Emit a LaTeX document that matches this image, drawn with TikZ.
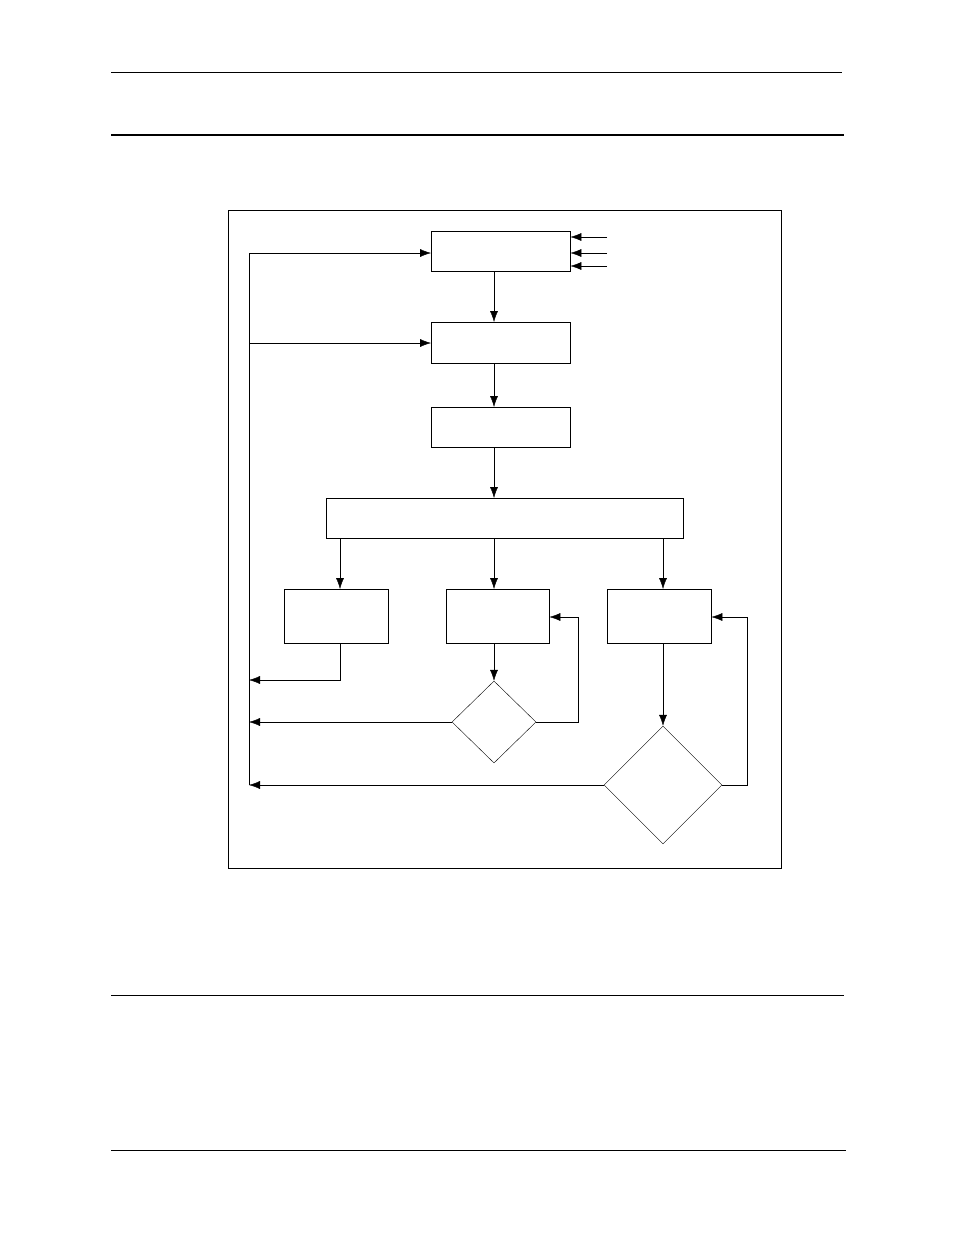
\documentclass[tikz,border=0pt]{standalone}
\usepackage{tikz}
\usetikzlibrary{shapes.geometric, arrows.meta}

\begin{document}
\begin{tikzpicture}[x=1pt, y=-1pt, >={Latex[length=11pt, width=8pt]}]
\tikzset{
  blk/.style={draw, thin, rectangle, anchor=north west, inner sep=0},
  dec/.style={draw, thin, diamond, inner sep=0},
}
\useasboundingbox (0,0) rectangle (954,1235);
% page rules
\draw[thin] (111,72) -- (842,72);
\draw[line width=1.5pt] (111,135) -- (844,135);
\draw[thin] (111,995) -- (844,995);
\draw[thin] (111,1150) -- (846,1150);
% frame
\draw[thin] (228,210) rectangle (781,868);
% boxes
\node[blk, minimum width=139, minimum height=40] (s1) at (431,231) {};
\node[blk, minimum width=139, minimum height=41] (s2) at (431,322) {};
\node[blk, minimum width=139, minimum height=40] (s3) at (431,407) {};
\node[blk, minimum width=357, minimum height=40] (wide) at (326,498) {};
\node[blk, minimum width=104, minimum height=54] (ba) at (284,589) {};
\node[blk, minimum width=103, minimum height=54] (bb) at (446,589) {};
\node[blk, minimum width=104, minimum height=54] (bc) at (607,589) {};
\node[dec, minimum width=84, minimum height=82] (d1) at (494,722) {};
\node[dec, minimum width=118, minimum height=118] (d2) at (663,785) {};
% helper coordinates
\coordinate (top) at (249,253);
\coordinate (bot) at (249,785);
\coordinate (i1) at (607,237);
\coordinate (i2) at (607,253);
\coordinate (i3) at (607,266);
% connectors
\draw[thin] (top) -- (bot);
\draw[->, thin] (top) -- (s1.west |- top);
\draw[->, thin] (249,343) -- (s2.west |- 0,343);
\draw[->, thin] (i1) -- (s1.east |- i1);
\draw[->, thin] (i2) -- (s1.east |- i2);
\draw[->, thin] (i3) -- (s1.east |- i3);
\draw[->, thin] (494,271) -- (494,322);
\draw[->, thin] (494,363) -- (494,407);
\draw[->, thin] (494,447) -- (494,498);
\draw[->, thin] (340,538) -- (340,589);
\draw[->, thin] (494,538) -- (494,589);
\draw[->, thin] (663,538) -- (663,589);
\draw[->, thin] (340,643) -- (340,680) -- (249,680);
\draw[->, thin] (494,643) -- (d1.north);
\draw[->, thin] (d1.west) -- (249,722);
\draw[->, thin] (d1.east) -- (578,722) -- (578,617) -- (bb.east |- 0,617);
\draw[->, thin] (663,643) -- (d2.north);
\draw[->, thin] (d2.west) -- (bot);
\draw[->, thin] (d2.east) -- (747,785) -- (747,617) -- (bc.east |- 0,617);
\end{tikzpicture}
\end{document}
